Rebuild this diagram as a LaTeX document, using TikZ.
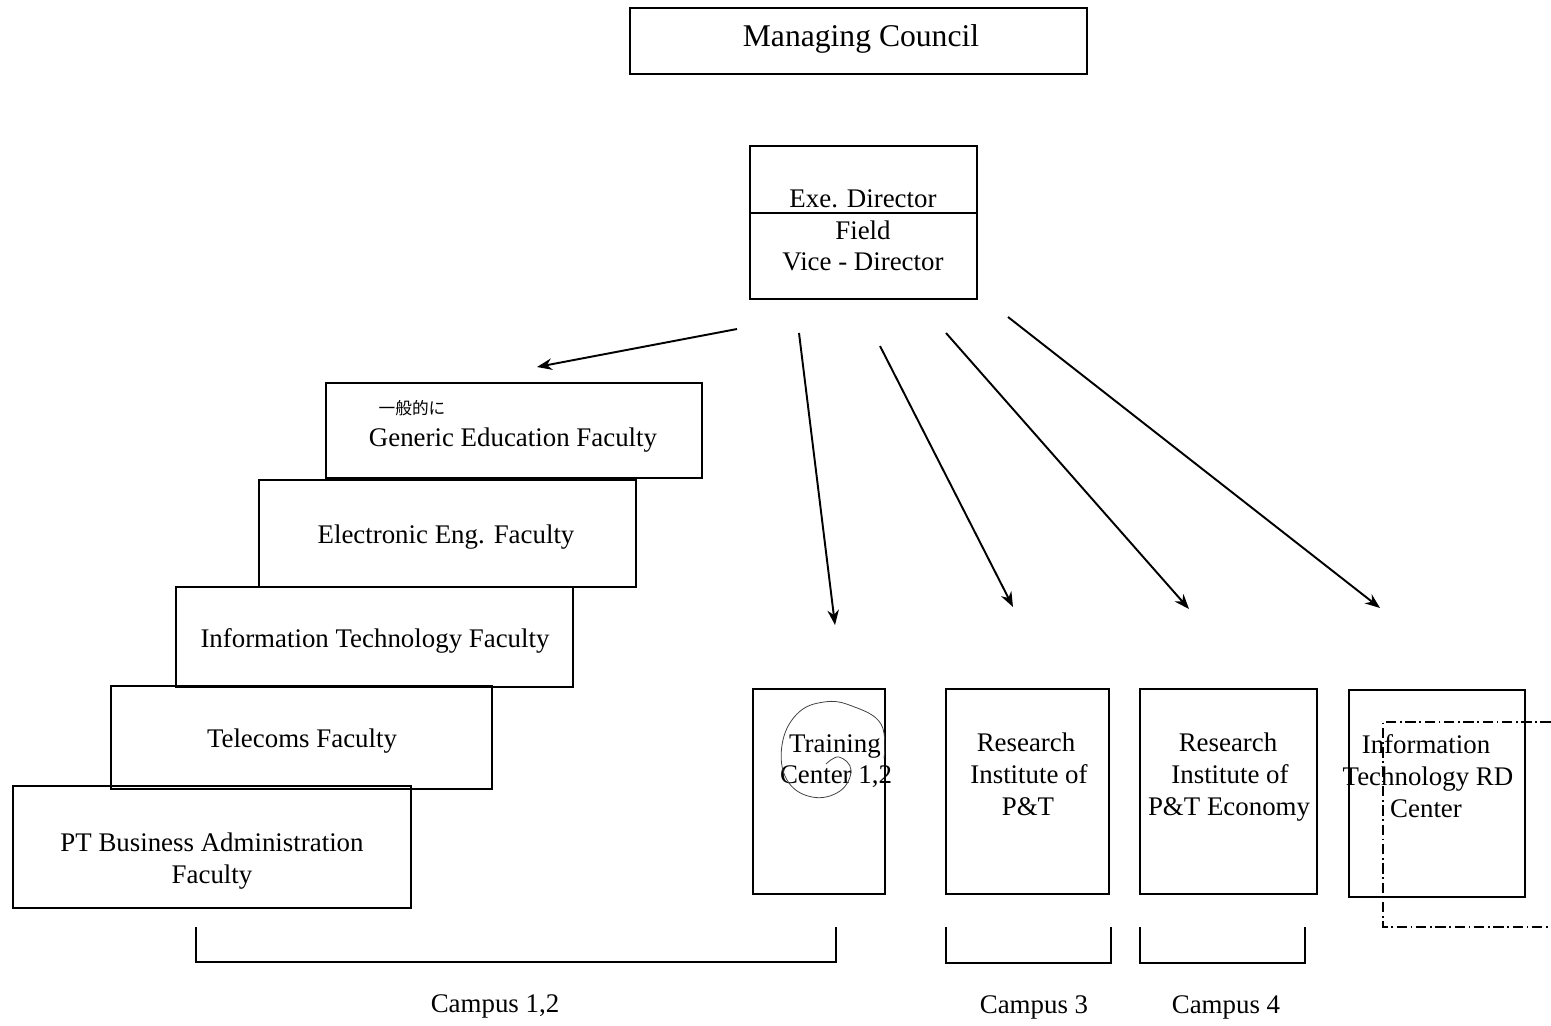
\documentclass[tikz,border=0pt]{standalone}
\usepackage{fontspec}
\setmainfont{Liberation Serif}
\newfontfamily\cjk{Noto Sans CJK JP}
\usetikzlibrary{arrows.meta,fit}
\begin{document}
\begin{tikzpicture}[x=0.02cm,y=-0.02cm,
  frame/.style={draw, line width=1.1pt, inner sep=0pt, rectangle},
  lbl/.style={font=\fontsize{15.3}{17}\selectfont, anchor=base, inner sep=0pt},
  biglbl/.style={font=\fontsize{18}{20}\selectfont, anchor=base, inner sep=0pt},
  note/.style={font=\cjk\fontsize{9.5}{11}\selectfont, anchor=base, inner sep=0pt},
  link/.style={line width=1.1pt, -{Stealth[length=3mm,width=2.3mm]}},
  bracket/.style={line width=1.1pt},
  zone/.style={line width=0.6pt, dash pattern=on 6pt off 2pt on 1pt off 2pt},
  scrawl/.style={line width=0.45pt, black!75},
]
\useasboundingbox (0,0) rectangle (1551,1025);

% --- top level ---------------------------------------------------------
\node[frame, fit={(630,8) (1087,74)}] (council) {};
\node[biglbl] (councilT) at (861,46) {Managing Council};

\node[frame, fit={(750,146) (977,299)}] (dir) {};
\coordinate (dirsep) at (0,213);
\draw[line width=0.9pt] (dir.west |- dirsep) -- (dir.east |- dirsep);
\node[lbl] (dirA) at (863,207) {Exe. Director};
\node[lbl] (dirB) at (863,239) {Field};
\node[lbl] (dirC) at (863,270) {Vice - Director};

% --- faculties (staircase) ----------------------------------------------
\node[frame, fit={(326,383) (702,478)}] (gen) {};
\node[note] (genN) at (412,414) {一般的に};
\node[lbl] (genT) at (513,446) {Generic Education Faculty};

\node[frame, fit={(259,480) (636,587)}] (elec) {};
\node[lbl] (elecT) at (446,543) {Electronic Eng. Faculty};

\node[frame, fit={(176,587) (573,687)}] (itf) {};
\node[lbl] (itfT) at (375,647) {Information Technology Faculty};

\node[frame, fit={(111,686) (492,789)}] (tel) {};
\node[lbl] (telT) at (302,747) {Telecoms Faculty};

\node[frame, fit={(13,786) (411,908)}] (ptb) {};
\node[lbl] (ptbA) at (212,851) {PT Business Administration};
\node[lbl] (ptbB) at (212,883) {Faculty};

% --- centres and institutes --------------------------------------------
\node[frame, fit={(753,689) (885,894)}] (train) {};
\node[lbl] (trainA) at (835,752) {Training};
\node[lbl] (trainB) at (836,783) {Center 1,2};

\node[frame, fit={(946,689) (1109,894)}] (rip) {};
\node[lbl] (ripA) at (1026,751) {Research};
\node[lbl] (ripB) at (1029,783) {Institute of};
\node[lbl] (ripC) at (1028,815) {P\&T};

\node[frame, fit={(1140,689) (1317,894)}] (rie) {};
\node[lbl] (rieA) at (1228,751) {Research};
\node[lbl] (rieB) at (1230,783) {Institute of};
\node[lbl] (rieC) at (1229,815) {P\&T Economy};

\node[frame, fit={(1349,690) (1525,897)}] (itrd) {};
\node[lbl] (itrdA) at (1426,753) {Information};
\node[lbl] (itrdB) at (1428,785) {Technology RD};
\node[lbl] (itrdC) at (1426,817) {Center};

% dash-dotted zone round the RD centre, running off the right edge
\draw[zone] (1551,722) -- (1383,722) -- (1383,927) -- (1551,927);

% pencil loop round the training centre label
\draw[scrawl] plot[smooth, tension=0.7] coordinates {(884,758) (881,724) (852,706) (824,702) (797,714) (782,745) (787,780) (812,797) (840,791) (851,770) (839,757) (826,764)};

% --- arrows from the director -------------------------------------------
\coordinate (s1) at (737,329);  \coordinate (e1) at (537,367);
\coordinate (s2) at (799,333);  \coordinate (e2) at (835,625);
\coordinate (s3) at (880,346);  \coordinate (e3) at (1013,607);
\coordinate (s4) at (946,333);  \coordinate (e4) at (1189,609);
\coordinate (s5) at (1008,317); \coordinate (e5) at (1380,608);
\draw[link] (s1) -- (e1);
\draw[link] (s2) -- (e2);
\draw[link] (s3) -- (e3);
\draw[link] (s4) -- (e4);
\draw[link] (s5) -- (e5);

% --- campus brackets ------------------------------------------------------
\draw[bracket] (196,927) -- (196,962) -- (836,962) -- (836,927);
\draw[bracket] (946,927) -- (946,963) -- (1111,963) -- (1111,927);
\draw[bracket] (1140,927) -- (1140,963) -- (1305,963) -- (1305,927);
\node[lbl] (camp12) at (495,1012) {Campus 1,2};
\node[lbl] (camp3) at (1034,1013) {Campus 3};
\node[lbl] (camp4) at (1226,1013) {Campus 4};
\end{tikzpicture}
\end{document}
